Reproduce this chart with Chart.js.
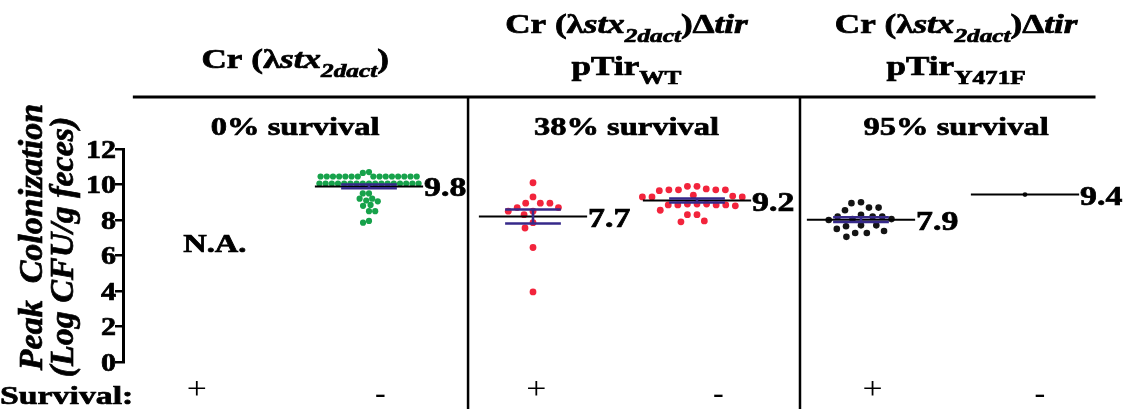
<!DOCTYPE html>
<html>
<head>
<meta charset="utf-8">
<script src="https://cdn.jsdelivr.net/npm/chart.js@4.4.1/dist/chart.umd.min.js"></script>
<style>
  html, body { margin: 0; padding: 0; background: #fff; }
  #wrap { width: 1125px; height: 409px; }
</style>
</head>
<body>
<div id="wrap"><canvas id="chart" width="1125" height="409"></canvas></div>
<script>
// values (Log CFU/g feces), one array per column
const greenMinus = [10.7, 10.65, 10.45, 10.45, 10.45, 10.45, 10.45, 10.45, 10.45, 10.45, 10.45, 10.45, 10.45, 10.45, 10.45, 10.45, 10.45,
    10.05, 10.05, 10.05, 10.05, 10.05, 10.05, 10.05, 10.05, 10.05, 10.05, 10.05, 10.05, 10.05, 10.05, 10.05, 10.05, 10.05,
    9.5, 9.5, 9.2, 9.1, 9.05, 9.2, 8.85, 8.8, 8.5, 8.5, 7.95, 7.85];
const wtPlus = [10.1, 9.3, 8.95, 8.95, 8.95, 8.7, 8.7, 8.5, 8.5, 8.3, 7.85, 7.55, 6.45, 3.95];
const wtMinus = [9.9, 9.9, 9.7, 9.7, 9.65, 9.7, 9.7, 9.75, 9.4, 9.3, 9.3, 9.3, 9.35,
    8.85, 8.9, 8.85, 8.8, 8.85, 8.9, 8.85, 8.9, 8.55, 8.3, 8.3, 7.95, 7.9];
const y471fPlus = [9.0, 8.95, 8.7, 8.7, 8.55, 8.3, 8.2, 8.2, 8.2, 8.05, 8.0, 8.05,
    7.7, 7.7, 7.65, 7.5, 7.38, 7.27, 7.27, 7.05];
const y471fMinus = [9.43];

const columnValues = [greenMinus, wtPlus, wtMinus, y471fPlus, y471fMinus];
const columnPos = [1, 2, 3, 4, 5];
const columnColors = ["#17a24b", "#f2243c", "#f2243c", "#141414", "#141414"];
const meanLabels = ["9.8", "7.7", "9.2", "7.9", "9.4"];
const survivalMarks = ["+", "-", "+", "-", "+", "-"];
const yTicks = [0, 2, 4, 6, 8, 10, 12];

// layout (x in axis units)
const survivalPos = [-0.05, 1.07, 2.02, 3.13, 4.07, 5.09];
const panelCenters = [0.55, 2.57, 4.58];
const dividers = [1.604, 3.628];
const dotRadius = [3.1, 3.4, 3.4, 3.3, 2.4];
const dotGap = [6.2, 9.6, 9.6, 9.6, 9.6];
const MEAN_HALF = 0.33, SEM_HALF = 0.17;
const NAVY = "#36298a";
const SERIF = '"Liberation Serif", "Times New Roman", serif';
const SX = 1.25;

const mean = a => a.reduce((s, v) => s + v, 0) / a.length;
const sem = a => {
    if (a.length < 2) return 0;
    const m = mean(a);
    const sd = Math.sqrt(a.reduce((s, v) => s + (v - m) ** 2, 0) / (a.length - 1));
    return sd / Math.sqrt(a.length);
};

const lineSet = (data, color, width) => ({
    type: "line", showLine: true, pointRadius: 0, borderColor: color, borderWidth: width, data
});

const semSets = [], meanSets = [], dotSets = [];
columnValues.forEach((vals, i) => {
    const c = columnPos[i], m = mean(vals), s = sem(vals);
    meanSets.push(lineSet([{ x: c - MEAN_HALF, y: m }, { x: c + MEAN_HALF, y: m }], "#000", 2));
    if (s > 0) {
        semSets.push(lineSet([{ x: c - SEM_HALF, y: m + s }, { x: c + SEM_HALF, y: m + s }], NAVY, 2.5));
        semSets.push(lineSet([{ x: c - SEM_HALF, y: m - s }, { x: c + SEM_HALF, y: m - s }], NAVY, 2.5));
        semSets.push(lineSet([{ x: c, y: m + s }, { x: c, y: m - s }], NAVY, 2.5));
    }
    dotSets.push({
        type: "scatter", pointRadius: dotRadius[i], pointBorderWidth: 0,
        backgroundColor: columnColors[i], borderColor: columnColors[i],
        data: vals.map(v => ({ x: c, y: v }))
    });
});

const font = (size, bold, italic) => `${italic ? "italic " : ""}${bold ? "bold " : ""}${size}px ${SERIF}`;

function stretched(ctx, text, x, y, sx, align, heavy = true) {
    ctx.save();
    ctx.translate(x, y);
    ctx.scale(sx, 1);
    ctx.textAlign = align || "left";
    ctx.fillText(text, 0, 0);
    if (heavy) { ctx.lineWidth = 0.7; ctx.strokeText(text, 0, 0); }
    ctx.restore();
}

function rich(ctx, segs, cx, y, size, sx) {
    const parts = segs.map(s => {
        const sz = s.sub ? size * 0.72 : size;
        ctx.font = font(sz, true, s.it);
        return { ...s, sz, w: ctx.measureText(s.t).width * sx };
    });
    let x = cx - parts.reduce((a, p) => a + p.w, 0) / 2;
    parts.forEach(p => {
        ctx.font = font(p.sz, true, p.it);
        stretched(ctx, p.t, x, y + (p.sub ? size * 0.32 : 0), sx);
        x += p.w;
    });
}

const strain = [{ t: "Cr (λ" }, { t: "stx", it: true }, { t: "2dact", it: true, sub: true }];
const headers = [
    [{ segs: [...strain, { t: ")" }], y: 68 }],
    [{ segs: [...strain, { t: ")Δ" }, { t: "tir", it: true }], y: 33 }, { segs: [{ t: "pTir" }, { t: "WT", sub: true }], y: 75 }],
    [{ segs: [...strain, { t: ")Δ" }, { t: "tir", it: true }], y: 33 }, { segs: [{ t: "pTir" }, { t: "Y471F", sub: true }], y: 75 }]
];
const survivalText = ["0% survival", "38% survival", "95% survival"];

const decor = {
    id: "decor",
    afterDraw(chart) {
        const ctx = chart.ctx, xs = chart.scales.x, ys = chart.scales.y;
        const px = v => xs.getPixelForValue(v);
        ctx.save();
        ctx.fillStyle = "#000";
        ctx.strokeStyle = "#000";
        ctx.textBaseline = "alphabetic";

        // panel frame
        ctx.lineWidth = 3;
        ctx.beginPath();
        ctx.moveTo(px(-0.44), 97); ctx.lineTo(px(5.43), 97);
        ctx.stroke();
        ctx.lineWidth = 2.5;
        dividers.forEach(d => {
            ctx.beginPath(); ctx.moveTo(px(d), 97); ctx.lineTo(px(d), chart.height); ctx.stroke();
        });

        // headers
        headers.forEach((lines, i) => lines.forEach(l => rich(ctx, l.segs, px(panelCenters[i]), l.y, 27, 1.3)));
        ctx.font = font(26, true);
        survivalText.forEach((t, i) => stretched(ctx, t, px(panelCenters[i]), 135, SX, "center"));

        // y tick labels
        ctx.font = font(25, true);
        yTicks.forEach(v => stretched(ctx, String(v), chart.chartArea.left - 7, ys.getPixelForValue(v) + 8.5, 1.2, "right"));

        // y title
        ctx.font = font(34, true, true);
        ctx.textAlign = "center";
        ctx.lineWidth = 0.7;
        [["Peak  Colonization", 42, 237], ["(Log CFU/g feces)", 73, 247]].forEach(([t, x, y]) => {
            ctx.save(); ctx.translate(x, y); ctx.rotate(-Math.PI / 2);
            ctx.fillText(t, 0, 0); ctx.strokeText(t, 0, 0);
            ctx.restore();
        });

        // mean labels
        ctx.font = font(27, true);
        columnValues.forEach((vals, i) => {
            stretched(ctx, meanLabels[i], px(columnPos[i] + MEAN_HALF) + 1, ys.getPixelForValue(mean(vals)) + 10, SX);
        });

        ctx.font = font(26, true);
        stretched(ctx, "N.A.", px(0.06), 252, SX, "center");
        stretched(ctx, "Survival:", 0, 404, 1.3);

        survivalMarks.forEach((m, i) => {
            ctx.font = font(m === "+" ? 31 : 28, m === "-");
            stretched(ctx, m, px(survivalPos[i]), m === "+" ? 399 : 402, 1.15, "center", false);
        });
        ctx.restore();
    }
};

const chart = new Chart(document.getElementById("chart"), {
    type: "scatter",
    data: { datasets: [...semSets, ...meanSets, ...dotSets] },
    options: {
        responsive: false,
        animation: false,
        layout: { padding: { top: 149, bottom: 47, left: 0, right: 18 } },
        plugins: { legend: { display: false }, tooltip: { enabled: false } },
        scales: {
            x: { type: "linear", min: -0.5, max: 5.5, display: false },
            y: {
                min: 0, max: 12,
                afterBuildTicks: s => { s.ticks = yTicks.map(v => ({ value: v })); },
                ticks: { color: "rgba(0,0,0,0)", font: { size: 24, family: SERIF, weight: "bold" }, padding: 2 },
                grid: { drawOnChartArea: false, drawTicks: true, tickLength: 8, color: "#000", lineWidth: 2.5 },
                border: { display: true, color: "#000", width: 3 },
                afterFit: s => { s.width = 123; }
            }
        }
    },
    plugins: [decor]
});

// spread the dots of each column sideways so they do not overlap (beeswarm)
function swarm(values, center, gap) {
    const xs = chart.scales.x, ys = chart.scales.y;
    const unit = xs.getPixelForValue(center + 1) - xs.getPixelForValue(center);
    const placed = [];
    const out = new Array(values.length);
    values.map((v, i) => i).sort((a, b) => values[b] - values[a]).forEach(i => {
        const py = ys.getPixelForValue(values[i]);
        const cands = [0];
        placed.forEach(p => {
            const dy = Math.abs(p.y - py);
            if (dy < gap) {
                const dx = Math.sqrt(gap * gap - dy * dy);
                cands.push(p.x + dx, p.x - dx);
            }
        });
        const flip = placed.length % 2;
        cands.sort((a, b) => (Math.abs(a) - Math.abs(b)) || (flip ? a - b : b - a));
        const ok = cands.find(c => placed.every(p => (p.x - c) ** 2 + (p.y - py) ** 2 >= gap * gap - 0.01));
        placed.push({ x: ok, y: py });
        out[i] = { x: center + ok / unit, y: values[i] };
    });
    return out;
}

dotSets.forEach((ds, i) => { ds.data = swarm(columnValues[i], columnPos[i], dotGap[i]); });
chart.update("none");
</script>
</body>
</html>
